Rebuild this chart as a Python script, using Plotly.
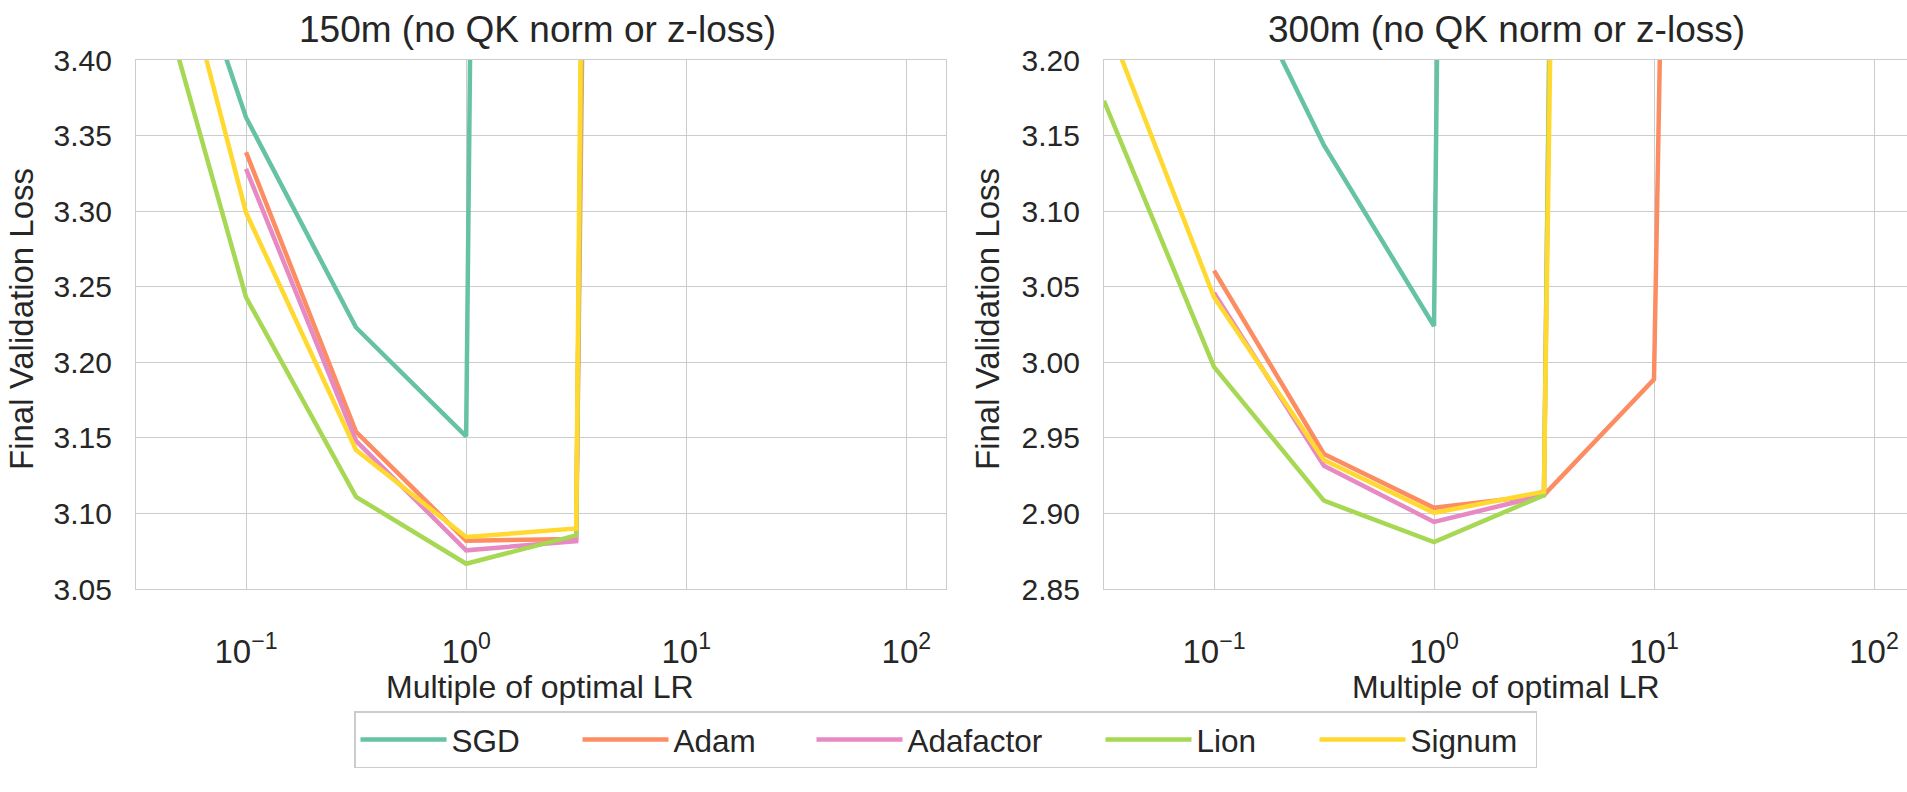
import plotly.graph_objects as go

# ---------------- data ----------------
optimizers = ["SGD", "Adam", "Adafactor", "Lion", "Signum"]
colors = ["#66c2a5", "#fc8d62", "#e78ac3", "#a6d854", "#ffd92f"]

# 150m panel: learning-rate multiples and final validation loss
x150_sgd = [0.0316, 0.1, 0.316, 1.0, 3.16]
y150_sgd = [3.578, 3.362, 3.223, 3.151, 10.2]
x150_adam = [0.1, 0.316, 1.0, 3.16, 10.0]
y150_adam = [3.339, 3.154, 3.082, 3.083, 9.0]
x150_adafactor = [0.1, 0.316, 1.0, 3.16, 10.0]
y150_adafactor = [3.328, 3.148, 3.0756, 3.0817, 10.0]
x150_lion = [0.0316, 0.1, 0.316, 1.0, 3.16, 10.0]
y150_lion = [3.502, 3.243, 3.111, 3.0667, 3.0855, 10.0]
x150_signum = [0.0316, 0.1, 0.316, 1.0, 3.16, 10.0]
y150_signum = [3.58, 3.299, 3.142, 3.0844, 3.090, 11.0]

# 300m panel
x300_sgd = [0.1, 0.316, 1.0, 3.16]
y300_sgd = [3.292, 3.1436, 3.024, 9.5]
x300_adam = [0.1, 0.316, 1.0, 3.16, 10.0, 31.6]
y300_adam = [3.0606, 2.9393, 2.9037, 2.9122, 2.9887, 7.0]
x300_adafactor = [0.1, 0.316, 1.0, 3.16, 10.0]
y300_adafactor = [3.046, 2.9315, 2.8944, 2.912, 9.0]
x300_lion = [0.0316, 0.1, 0.316, 1.0, 3.16, 10.0]
y300_lion = [3.173, 2.997, 2.9084, 2.8811, 2.912, 9.0]
x300_signum = [0.0316, 0.1, 0.316, 1.0, 3.16, 10.0]
y300_signum = [3.231, 3.043, 2.9353, 2.9004, 2.9144, 8.0]

panel_titles = ["150m (no QK norm or z-loss)", "300m (no QK norm or z-loss)"]
x_label = "Multiple of optimal LR"
y_label = "Final Validation Loss"
x_tickvals = [0.1, 1, 10, 100]
x_ticktext = ["10<sup>\u22121</sup>", "10<sup>0</sup>", "10<sup>1</sup>", "10<sup>2</sup>"]

series150 = [(x150_sgd, y150_sgd), (x150_adam, y150_adam), (x150_adafactor, y150_adafactor),
             (x150_lion, y150_lion), (x150_signum, y150_signum)]
series300 = [(x300_sgd, y300_sgd), (x300_adam, y300_adam), (x300_adafactor, y300_adafactor),
             (x300_lion, y300_lion), (x300_signum, y300_signum)]

# ---------------- figure ----------------
W, H = 1907, 792
FONT = "Liberation Sans, Arial, sans-serif"
TXT = "#262626"
GRID = "#cccccc"
ITEMW = 86
legend_widths = [121, 133, 188, 113, 120]

fig = go.Figure()
for i, name in enumerate(optimizers):
    xs, ys = series150[i]
    fig.add_trace(go.Scatter(x=xs, y=ys, mode="lines", name=name,
                             line=dict(color=colors[i], width=4.5),
                             xaxis="x", yaxis="y", legendwidth=legend_widths[i]))
for i, name in enumerate(optimizers):
    xs, ys = series300[i]
    fig.add_trace(go.Scatter(x=xs, y=ys, mode="lines", name=name, showlegend=False,
                             line=dict(color=colors[i], width=4.5),
                             xaxis="x2", yaxis="y2"))

ydom = [1 - 589 / H, 1 - 60 / H]
common_x = dict(type="log", showgrid=True, gridcolor=GRID, gridwidth=1.3,
                showline=True, linecolor=GRID, linewidth=1.3, mirror=True,
                ticks="", tickvals=x_tickvals, ticktext=x_ticktext,
                tickfont=dict(size=33, color=TXT, family=FONT),
                ticklabelstandoff=33, zeroline=False, automargin=False)
common_y = dict(showgrid=True, gridcolor=GRID, gridwidth=1.3,
                showline=True, linecolor=GRID, linewidth=1.3,
                ticks="", dtick=0.05, tickformat=".2f",
                tickfont=dict(size=30, color=TXT, family=FONT),
                ticklabelstandoff=17, zeroline=False, domain=ydom, automargin=False)

fig.update_layout(
    width=W, height=H,
    margin=dict(l=0, r=0, t=0, b=0, pad=0, autoexpand=False),
    paper_bgcolor="white", plot_bgcolor="white",
    font=dict(family=FONT, color=TXT),
    xaxis=dict(domain=[136 / W, 946 / W], range=[-1.5, 2.18], anchor="y", **common_x),
    yaxis=dict(range=[3.05, 3.40], anchor="x", tick0=3.05, mirror=True, **common_y),
    xaxis2=dict(domain=[1104 / W, 1.0], range=[-1.5, 2.15], anchor="y2", **common_x),
    yaxis2=dict(range=[2.85, 3.20], anchor="x2", tick0=2.85, mirror=False, **common_y),
    legend=dict(orientation="h", x=354 / W, y=1 - 711 / H, xanchor="left", yanchor="top",
                bordercolor=GRID, borderwidth=1.5, bgcolor="white",
                font=dict(size=31.5, color=TXT, family=FONT), itemwidth=ITEMW),
    showlegend=True,
)

annotations = [
    dict(text=panel_titles[0], x=537 / W, y=1 - 29 / H, font=dict(size=37)),
    dict(text=panel_titles[1], x=1506 / W, y=1 - 29 / H, font=dict(size=37)),
    dict(text=x_label, x=540 / W, y=1 - 687 / H, font=dict(size=32)),
    dict(text=x_label, x=1506 / W, y=1 - 687 / H, font=dict(size=32)),
    dict(text=y_label, x=21 / W, y=1 - 319 / H, font=dict(size=33), textangle=-90),
    dict(text=y_label, x=987 / W, y=1 - 319 / H, font=dict(size=33), textangle=-90),
]
for a in annotations:
    a.update(xref="paper", yref="paper", showarrow=False, xanchor="center", yanchor="middle")
    a["font"].update(family=FONT, color=TXT)
fig.update_layout(annotations=annotations)

fig.write_html("out.html")
